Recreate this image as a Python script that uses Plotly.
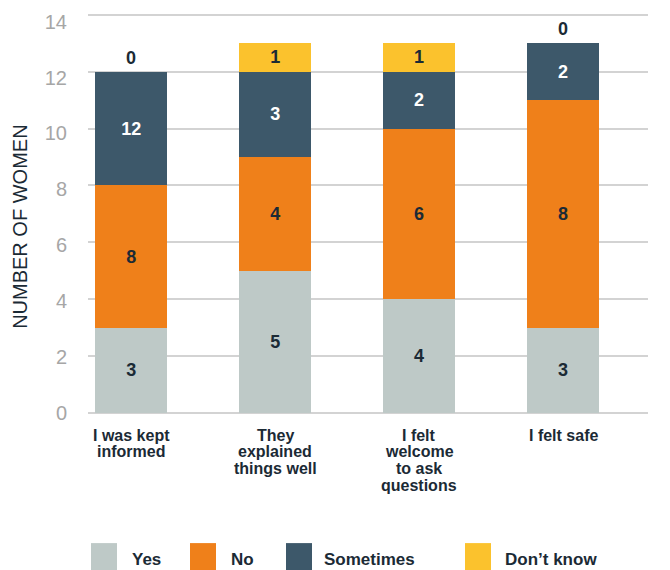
import plotly.graph_objects as go

# ---------------- data ----------------
categories = ["I was kept<br>informed", "They<br>explained<br>things well",
              "I felt<br>welcome<br>to ask<br>questions", "I felt safe"]
series_names = ["Yes", "No", "Sometimes", "Don’t know"]
yes = [3, 5, 4, 3]
no = [5, 4, 6, 8]
sometimes = [4, 3, 2, 2]
dont_know = [0, 1, 1, 0]
# printed labels (as shown in the original chart)
yes_labels = ["3", "5", "4", "3"]
no_labels = ["8", "4", "6", "8"]
sometimes_labels = ["12", "3", "2", "2"]
dont_know_labels = ["0", "1", "1", "0"]
y_ticks = [0, 2, 4, 6, 8, 10, 12, 14]
y_title = "NUMBER OF WOMEN"

# ---------------- style ----------------
colors = ["#bec9c7", "#ef801a", "#3d586a", "#fbc22d"]
text_colors = ["#1b2a35", "#1b2a35", "#ffffff", "#1b2a35"]
BOLD = "Liberation Sans, Arial, sans-serif"
REG = "Liberation Sans, Arial, sans-serif"
DARK = "#1b2a35"

OFF = 8  # default page body margin
Y_MAX = 14.06
W, H = 670 - OFF, 570 - OFF
UNIT = 398 / 14.0  # pixels per unit on the y axis (bars / grid)
PL, PR, PB = 88, 648, 413  # plot area in window pixels
PT = PB - Y_MAX * UNIT
ML, MT = PL - OFF, PT - OFF
MR, MB = 670 - PR, 570 - PB
PW, PH = PR - PL, PB - PT

# tick labels in the original sit on a slightly compressed scale
LBL_ZERO_PX, LBL_TOP_PX = 412.8, 22.0
LS = (LBL_ZERO_PX - LBL_TOP_PX) / 14.0
y2_range = [(LBL_ZERO_PX - PB) / LS, (LBL_ZERO_PX - PT) / LS]


def px_to_paper(x, y):
    return (x - PL) / PW, (PB - y) / PH


fig = go.Figure()
values = [yes, no, sometimes, dont_know]
labels = [yes_labels, no_labels, sometimes_labels, dont_know_labels]
for name, vals, labs, col, tcol in zip(series_names, values, labels, colors, text_colors):
    shown = [l if v > 0 else "" for l, v in zip(labs, vals)]
    fig.add_trace(go.Bar(
        x=categories, y=vals, name=name, width=0.5,
        marker=dict(color=col, line=dict(width=0)),
        text=shown, textposition="inside", insidetextanchor="middle",
        textangle=0, constraintext="none",
        textfont=dict(family=BOLD, size=18, color=tcol, weight="bold"),
        showlegend=False, hoverinfo="skip",
    ))
# carrier for the tick-label axis
fig.add_trace(go.Scatter(x=[], y=[], yaxis="y2", showlegend=False, hoverinfo="skip"))

annotations = []
# labels for zero-height segments above the stack
totals = [a + b + c + d for a, b, c, d in zip(yes, no, sometimes, dont_know)]
for cat, v, lab, tot in zip(categories, dont_know, dont_know_labels, totals):
    if v == 0:
        annotations.append(dict(x=cat, y=tot, xref="x", yref="y", text=lab,
                                showarrow=False, yanchor="middle", yshift=14,
                                font=dict(family=BOLD, size=18, color=DARK, weight="bold")))

# category labels, line by line (tight line spacing)
for cat in categories:
    for i, line in enumerate(cat.split("<br>")):
        annotations.append(dict(x=cat, y=0, xref="x", yref="paper", text=line,
                                showarrow=False, yanchor="middle", xanchor="center",
                                yshift=-(22 + i * 16.7),
                                font=dict(family=BOLD, size=16, color=DARK, weight="bold")))

# y-axis title
tx, ty = px_to_paper(20, 227)
annotations.append(dict(x=tx, y=ty, xref="paper", yref="paper", text=y_title,
                        textangle=-90, showarrow=False, xanchor="center", yanchor="middle",
                        font=dict(family=REG, size=20, color=DARK)))

# custom legend
shapes = []
sq_left = [91, 190, 286, 465]
txt_left = [130, 229, 322, 503]
for name, col, sx, tx_ in zip(series_names, colors, sq_left, txt_left):
    x0, y0 = px_to_paper(sx, 570)
    x1, y1 = px_to_paper(sx + 26, 543)
    shapes.append(dict(type="rect", xref="paper", yref="paper", x0=x0, x1=x1, y0=y0, y1=y1,
                       fillcolor=col, line=dict(width=0)))
    ax, ay = px_to_paper(tx_, 559)
    annotations.append(dict(x=ax, y=ay, xref="paper", yref="paper", text=name,
                            showarrow=False, xanchor="left", yanchor="middle",
                            font=dict(family=BOLD, size=17, color=DARK, weight="bold")))

fig.update_layout(
    width=W, height=H, barmode="stack",
    margin=dict(l=ML, r=MR, t=MT, b=MB, autoexpand=False),
    paper_bgcolor="white", plot_bgcolor="white",
    annotations=annotations, shapes=shapes,
    xaxis=dict(range=[-0.3, 3.59], showticklabels=False, showgrid=False,
               zeroline=False, showline=False, ticks="", automargin=False),
    yaxis=dict(range=[0, Y_MAX], tickvals=y_ticks, showgrid=True, gridcolor="#d3d3d3",
               gridwidth=1.5, zeroline=True, zerolinecolor="#d3d3d3", zerolinewidth=1.5,
               ticks="", showticklabels=False, automargin=False),
    yaxis2=dict(range=y2_range, overlaying="y", side="left", anchor="x",
                tickvals=y_ticks, showgrid=False, zeroline=False, showline=False,
                ticks="", ticklabelstandoff=20, automargin=False,
                ticklabeloverflow="allow",
                tickfont=dict(family=REG, size=20, color="#a6a6a6")),
)

fig.write_html("out.html")
